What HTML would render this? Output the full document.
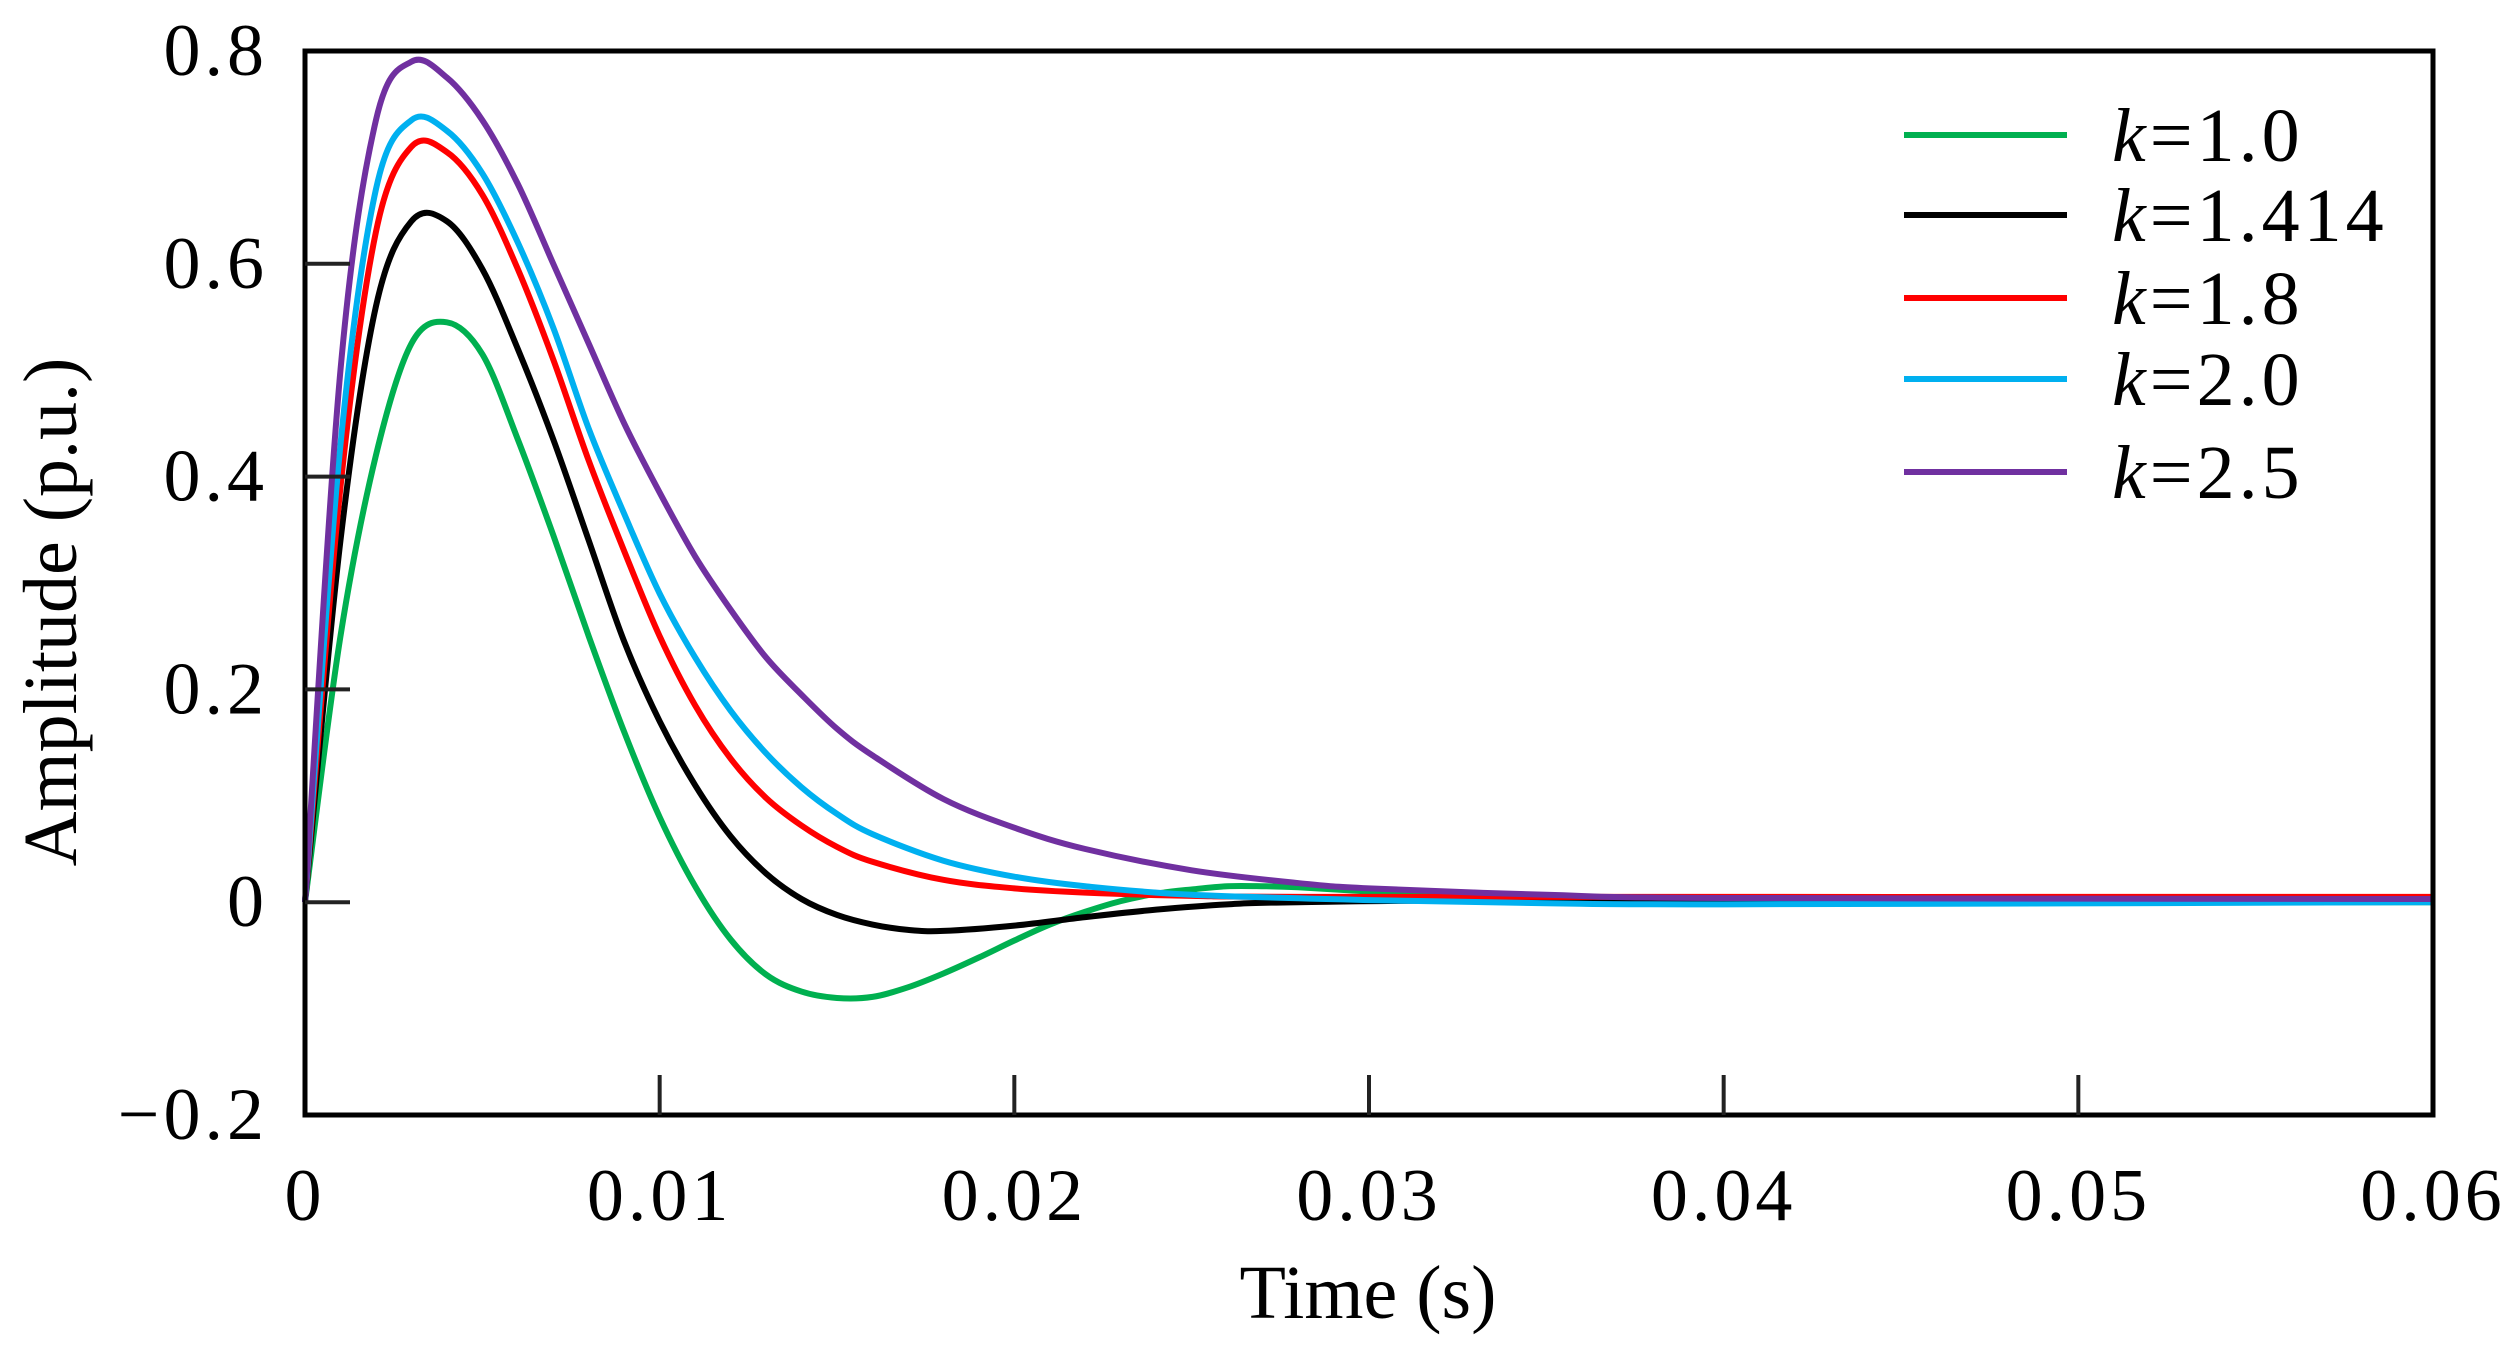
<!DOCTYPE html>
<html><head><meta charset="utf-8"><style>
html,body{margin:0;padding:0;background:#fff;}
svg{display:block;}
text{font-family:"Liberation Serif",serif;fill:#000;}
.sp{letter-spacing:4px;}
</style></head><body>
<svg id="chart" width="2516" height="1360" viewBox="0 0 2516 1360" xmlns="http://www.w3.org/2000/svg"></svg>
<script>
const xTicks = [0, 0.01, 0.02, 0.03, 0.04, 0.05, 0.06];
const xTickLabels = ["0", "0.01", "0.02", "0.03", "0.04", "0.05", "0.06"];
const yTicks = [-0.2, 0, 0.2, 0.4, 0.6, 0.8];
const yTickLabels = ["\u22120.2", "0", "0.2", "0.4", "0.6", "0.8"];
const seriesNames = ["k=1.0", "k=1.414", "k=1.8", "k=2.0", "k=2.5"];
const seriesColors = ["#00b050", "#000000", "#ff0000", "#00b0f0", "#7030a0"];

const tK10 = [0,0.001,0.002,0.003,0.004,0.005,0.006,0.007,0.008,0.009,0.010,0.011,0.012,0.013,0.014,0.015,0.016,0.017,0.018,0.019,0.020,0.021,0.022,0.023,0.024,0.025,0.026,0.027,0.028,0.030,0.032,0.035,0.040,0.060];
const vK10 = [0,0.25,0.42,0.525,0.545,0.515,0.435,0.345,0.25,0.16,0.08,0.015,-0.035,-0.068,-0.084,-0.09,-0.089,-0.08,-0.067,-0.052,-0.036,-0.021,-0.009,0.001,0.008,0.012,0.015,0.015,0.014,0.01,0.006,0.002,0,0];
const tK1414 = [0,0.001,0.002,0.003,0.004,0.005,0.006,0.007,0.008,0.009,0.010,0.011,0.012,0.013,0.014,0.015,0.016,0.017,0.018,0.020,0.022,0.024,0.026,0.028,0.035,0.060];
const vK1414 = [0,0.34,0.56,0.64,0.64,0.595,0.52,0.435,0.34,0.245,0.17,0.11,0.062,0.027,0.003,-0.012,-0.021,-0.026,-0.027,-0.022,-0.014,-0.007,-0.002,0,0.002,0.003];
const tK18 = [0,0.001,0.002,0.003,0.004,0.005,0.006,0.007,0.008,0.009,0.010,0.011,0.012,0.013,0.014,0.015,0.016,0.018,0.020,0.022,0.025,0.030,0.060];
const vK18 = [0,0.39,0.63,0.71,0.705,0.665,0.595,0.51,0.415,0.33,0.25,0.185,0.135,0.098,0.072,0.052,0.038,0.021,0.013,0.009,0.006,0.005,0.005];
const tK20 = [0,0.001,0.002,0.003,0.004,0.005,0.006,0.007,0.008,0.009,0.010,0.011,0.012,0.013,0.014,0.015,0.016,0.018,0.020,0.022,0.025,0.030,0.035,0.040,0.060];
const vK20 = [0,0.43,0.67,0.735,0.725,0.685,0.62,0.54,0.445,0.365,0.29,0.23,0.18,0.14,0.108,0.083,0.064,0.039,0.024,0.015,0.007,0.002,-0.001,-0.002,0];
const tK25 = [0,0.001,0.002,0.003,0.004,0.005,0.006,0.007,0.008,0.009,0.010,0.011,0.012,0.013,0.014,0.015,0.016,0.018,0.020,0.022,0.025,0.028,0.030,0.035,0.040,0.060];
const vK25 = [0,0.5,0.735,0.79,0.775,0.735,0.675,0.6,0.525,0.45,0.385,0.325,0.275,0.23,0.195,0.163,0.138,0.097,0.07,0.05,0.03,0.018,0.013,0.007,0.004,0.003];

const seriesT = [tK10, tK1414, tK18, tK20, tK25];
const seriesV = [vK10, vK1414, vK18, vK20, vK25];

const svg = document.getElementById('chart');
const NS = 'http://www.w3.org/2000/svg';
const L = 305, R = 2433, T = 51, B = 1115;
const xMin = 0, xMax = 0.06, yMin = -0.2, yMax = 0.8;
function xs(v){ return L + (v - xMin) / (xMax - xMin) * (R - L); }
function ys(v){ return B - (v - yMin) / (yMax - yMin) * (B - T); }
function mk(tag, attrs){ const e = document.createElementNS(NS, tag); for (const k in attrs) e.setAttribute(k, attrs[k]); svg.appendChild(e); return e; }

seriesT.forEach((ts, i) => {
  const pts = ts.map((t, j) => [xs(t), ys(seriesV[i][j])]);
  let d = 'M' + pts[0][0] + ',' + pts[0][1];
  for (let j = 0; j < pts.length - 1; j++) {
    const p0 = pts[Math.max(j-1,0)], p1 = pts[j], p2 = pts[j+1], p3 = pts[Math.min(j+2, pts.length-1)];
    const c1x = p1[0] + (p2[0]-p0[0])/6, c1y = p1[1] + (p2[1]-p0[1])/6;
    const c2x = p2[0] - (p3[0]-p1[0])/6, c2y = p2[1] - (p3[1]-p1[1])/6;
    d += ' C' + c1x + ',' + c1y + ' ' + c2x + ',' + c2y + ' ' + p2[0] + ',' + p2[1];
  }
  const p = mk('path', {d: d, fill: 'none', stroke: seriesColors[i], 'stroke-width': 6, 'stroke-linejoin': 'round'});
  
  
});

const frame = mk('rect', {x: L, y: T, width: R - L, height: B - T, fill: 'none', stroke: '#000', 'stroke-width': 5});



xTicks.forEach((v, i) => {
  if (i > 0 && i < xTicks.length - 1) {
    const tk = mk('line', {x1: xs(v), x2: xs(v), y1: B, y2: B - 40, stroke: '#222', 'stroke-width': 4});
    
    
  }
  const tx = mk('text', {x: xs(v), y: 1220, 'font-size': 74, 'text-anchor': 'middle', class: 'sp'});
  tx.textContent = xTickLabels[i];
  
  
});
yTicks.forEach((v, i) => {
  if (i > 0 && i < yTicks.length - 1) {
    const tk = mk('line', {x1: L, x2: L + 45, y1: ys(v), y2: ys(v), stroke: '#222', 'stroke-width': 4});
    
    
  }
  const tx = mk('text', {x: 268, y: ys(v) + 24, 'font-size': 74, 'text-anchor': 'end', class: 'sp'});
  tx.textContent = yTickLabels[i];
  
  
});

const xt = mk('text', {x: 1368, y: 1318, 'font-size': 76, 'text-anchor': 'middle'});
xt.textContent = 'Time (s)';


const yt = mk('text', {x: 0, y: 0, 'font-size': 76, 'text-anchor': 'middle', transform: 'translate(76,612) rotate(-90)'});
yt.textContent = 'Amplitude (p.u.)';



const legY = [135, 215, 298, 379, 472];
seriesNames.forEach((n, i) => {
  const ln = mk('line', {x1: 1904, x2: 2067, y1: legY[i], y2: legY[i], stroke: seriesColors[i], 'stroke-width': 6});
  
  
  const tx = mk('text', {x: 2112, y: legY[i] + 26, 'font-size': 76, class: 'sp'});
  const parts = n.split('=');
  const it = document.createElementNS(NS, 'tspan');
  it.setAttribute('font-style', 'italic');
  it.textContent = parts[0];
  tx.appendChild(it);
  const rest = document.createElementNS(NS, 'tspan');
  rest.textContent = '=' + parts[1];
  tx.appendChild(rest);
  
  
});
</script>
</body></html>
